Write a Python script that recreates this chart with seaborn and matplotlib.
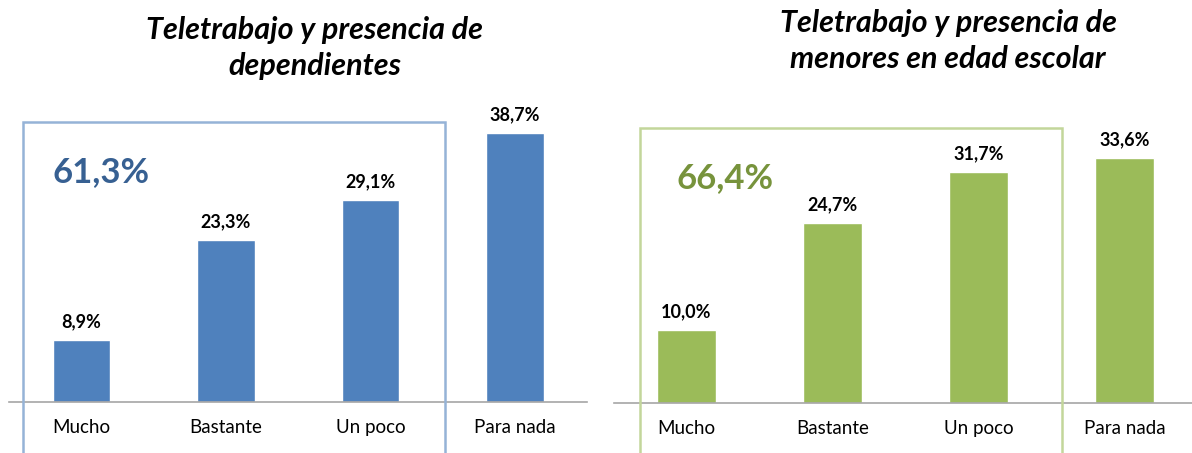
import matplotlib
matplotlib.use("Agg")
import matplotlib.pyplot as plt
from matplotlib.patches import Rectangle
import seaborn as sns

categories = ["Mucho", "Bastante", "Un poco", "Para nada"]
dependientes = [8.9, 23.3, 29.1, 38.7]
menores = [10.0, 24.7, 31.7, 33.6]
total_dep = "61,3%"
total_men = "66,4%"
title_dep = "Teletrabajo y presencia de\ndependientes"
title_men = "Teletrabajo y presencia de\nmenores en edad escolar"

sns.set_theme(style="white")
plt.rcParams['font.family'] = ['Lato', 'DejaVu Sans']

W, H = 1192, 453
fig = plt.figure(figsize=(W / 100, H / 100), dpi=100)

blue = "#4F81BD"
green = "#9BBB59"

def px(x0, y_base, w, h):
    return [x0 / W, (H - y_base) / H, w / W, h / H]

ax1 = fig.add_axes(px(9.25, 402, 578, 45 * 6.95))
ax2 = fig.add_axes(px(613.5, 403, 584, 45 * 7.3))

for ax, vals, col in [(ax1, dependientes, blue), (ax2, menores, green)]:
    sns.barplot(x=categories, y=vals, color=col, width=0.4, ax=ax, saturation=1)
    ax.set_ylim(0, 45)
    for s in ["top", "left", "right"]:
        ax.spines[s].set_visible(False)
    ax.spines["bottom"].set_color("#A6A6A6")
    ax.spines["bottom"].set_linewidth(1.2)
    ax.set_yticks([])
    ax.set_ylabel("")
    ax.set_xlabel("")
    ax.tick_params(axis="x", length=0, pad=12, labelsize=13.5, colors="black")
    ax.bar_label(ax.containers[0], labels=[f"{v:.1f}%".replace(".", ",") for v in vals],
                 padding=7, fontsize=13, fontweight="bold", color="black")
    ax.patch.set_alpha(0)

ax1.set_xlim(-0.5, 3.5)
ax2.set_xlim(-0.5, 3.5)

# highlight boxes
fig.patches.append(Rectangle((23 / W, -0.1), (445 - 23) / W, (H - 122) / H + 0.1,
                             transform=fig.transFigure, fill=False,
                             edgecolor="#95B3D7", linewidth=1.8, zorder=5))
fig.patches.append(Rectangle((640 / W, -0.1), (1062 - 640) / W, (H - 128) / H + 0.1,
                             transform=fig.transFigure, fill=False,
                             edgecolor="#C3D69B", linewidth=1.8, zorder=5))

fig.text(52 / W, (H - 172) / H, total_dep, color="#376092", fontsize=25,
         fontweight="bold", va="center", ha="left")
fig.text(677 / W, (H - 178) / H, total_men, color="#77933C", fontsize=25,
         fontweight="bold", va="center", ha="left")

fig.text(315 / W, (H - 48) / H, title_dep, fontsize=22, fontweight="bold",
         fontstyle="italic", ha="center", va="center", linespacing=1.35, color="black")
fig.text(948 / W, (H - 41) / H, title_men, fontsize=22, fontweight="bold",
         fontstyle="italic", ha="center", va="center", linespacing=1.35, color="black")

fig.savefig("out.png", dpi=100)
